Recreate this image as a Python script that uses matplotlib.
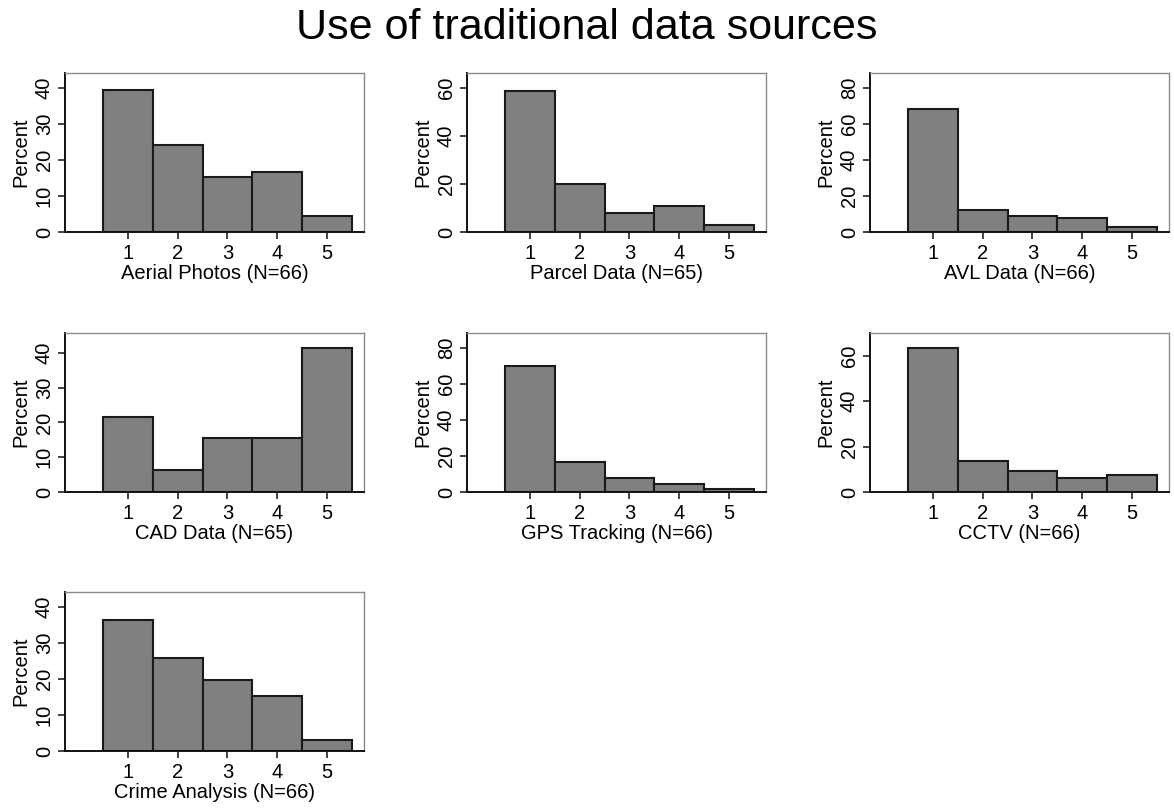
import matplotlib.pyplot as plt
import numpy as np

plt.rcParams['font.family'] = ['Liberation Sans', 'DejaVu Sans']

# percent of respondents per rating (1..5)
categories = [1, 2, 3, 4, 5]
labels = ['Aerial Photos (N=66)', 'Parcel Data (N=65)', 'AVL Data (N=66)',
          'CAD Data (N=65)', 'GPS Tracking (N=66)', 'CCTV (N=66)',
          'Crime Analysis (N=66)']
aerial = [39.4, 24.2, 15.2, 16.7, 4.5]
parcel = [58.5, 20.0, 7.7, 10.8, 3.1]
avl = [68.2, 12.1, 9.1, 7.6, 3.0]
cad = [21.5, 6.2, 15.4, 15.4, 41.5]
gps = [69.7, 16.7, 7.6, 4.5, 1.5]
cctv = [63.6, 13.6, 9.1, 6.1, 7.6]
crime = [36.4, 25.8, 19.7, 15.2, 3.0]
series = [aerial, parcel, avl, cad, gps, cctv, crime]

# y axis ticks: step and top tick
tick_step = [10, 20, 20, 10, 20, 20, 10]
tick_top = [40, 60, 80, 40, 80, 60, 40]

fig = plt.figure(figsize=(11.74, 8.10), dpi=100)
fig.text(0.5, 0.966, 'Use of traditional data sources', ha='center', va='center',
         fontsize=31)

col_left = [0.0554, 0.3978, 0.741]
row_bottom = [0.7136, 0.3926, 0.0728]
w, h = 0.2547, 0.196

for i, vals in enumerate(series):
    r, c = divmod(i, 3)
    ax = fig.add_axes([col_left[c], row_bottom[r], w, h])
    ax.bar(categories, vals, width=1.0, color='#808080', edgecolor='#1a1a1a',
           linewidth=1.5, zorder=2)
    ax.set_xlim(-0.27, 5.75)
    ax.set_ylim(0, 1.1 * max(tick_top[i], max(vals)))
    ax.set_xticks(categories)
    ax.set_yticks(np.arange(0, tick_top[i] + 1, tick_step[i]))
    ax.tick_params(axis='both', labelsize=14.5, length=5, width=1.2, color='#222222')
    ax.tick_params(axis='y', labelrotation=90, pad=3)
    for t in ax.get_yticklabels():
        t.set_va('center')
    ax.set_ylabel('Percent', fontsize=14.5, labelpad=3)
    ax.set_xlabel(labels[i], fontsize=14.5, labelpad=1)
    for s in ['left', 'bottom']:
        ax.spines[s].set_color('#111111')
        ax.spines[s].set_linewidth(1.4)
    for s in ['top', 'right']:
        ax.spines[s].set_color('#8a8a8a')
        ax.spines[s].set_linewidth(1.0)

fig.savefig('out.png', dpi=100)
